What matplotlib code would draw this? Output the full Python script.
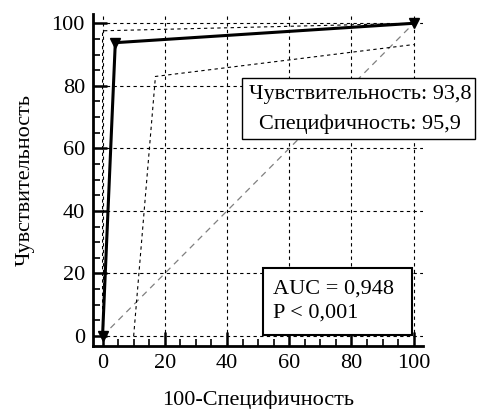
import numpy as np
import matplotlib.pyplot as plt
from matplotlib.patches import Rectangle
from matplotlib.ticker import MultipleLocator

# ROC data (100-Specificity, Sensitivity)
roc_x = [0, 4.1, 100]
roc_y = [0, 93.8, 100]

# confidence bounds
upper_x = [0, 0, 100]
upper_y = [0, 97.6, 100]
lower_x = [10, 17, 100]
lower_y = [0, 83, 93.2]

diag = [0, 100]

sens_lines = ['Чувствительность: 93,8', 'Специфичность: 95,9']
auc_lines = ['AUC = 0,948', 'P < 0,001']

plt.rcParams['font.family'] = ['Liberation Serif', 'DejaVu Serif']
FS = 16

fig = plt.figure(figsize=(4.78, 4.09), dpi=100)
ax = fig.add_axes([0.195, 0.154, 0.69, 0.812])

ax.set_xlim(-3, 103)
ax.set_ylim(-3.2, 103)

ax.xaxis.set_major_locator(MultipleLocator(20))
ax.yaxis.set_major_locator(MultipleLocator(20))
ax.xaxis.set_minor_locator(MultipleLocator(5))
ax.yaxis.set_minor_locator(MultipleLocator(5))

ax.grid(True, which='major', color='black', ls=(0, (3, 3)), lw=0.8)

ax.plot(diag, diag, color='gray', ls=(0, (5, 4)), lw=0.9)
ax.plot(upper_x, upper_y, color='black', ls=(0, (3, 3)), lw=0.8)
ax.plot(lower_x, lower_y, color='black', ls=(0, (3, 3)), lw=0.8)
ax.plot(roc_x, roc_y, color='black', lw=2.2, marker='v', markersize=7)

for s in ['top', 'right']:
    ax.spines[s].set_visible(False)
for s in ['left', 'bottom']:
    ax.spines[s].set_linewidth(2)

ax.tick_params(which='major', direction='in', length=10, width=1.8, labelsize=FS, pad=6)
ax.tick_params(which='minor', direction='in', length=5, width=1.2)

ax.set_xlabel('100-Специфичность', fontsize=FS, labelpad=12)
ax.set_ylabel('Чувствительность', fontsize=FS, labelpad=12)

# sensitivity / specificity box
ax.add_patch(Rectangle((0.4515, 0.6235), 0.7065, 0.1835, transform=ax.transAxes,
                       fc='white', ec='black', lw=1, clip_on=False, zorder=5))
ax.text(0.81, 0.757, sens_lines[0], transform=ax.transAxes, ha='center', va='center',
        fontsize=FS, clip_on=False, zorder=6)
ax.text(0.81, 0.668, sens_lines[1], transform=ax.transAxes, ha='center', va='center',
        fontsize=FS, clip_on=False, zorder=6)

# AUC box
ax.add_patch(Rectangle((0.515, 0.033), 0.452, 0.202, transform=ax.transAxes,
                       fc='white', ec='black', lw=1.5, zorder=5))
ax.text(0.545, 0.172, auc_lines[0], transform=ax.transAxes, ha='left', va='center',
        fontsize=FS, zorder=6)
ax.text(0.545, 0.099, auc_lines[1], transform=ax.transAxes, ha='left', va='center',
        fontsize=FS, zorder=6)

fig.savefig('out.png', dpi=100)
